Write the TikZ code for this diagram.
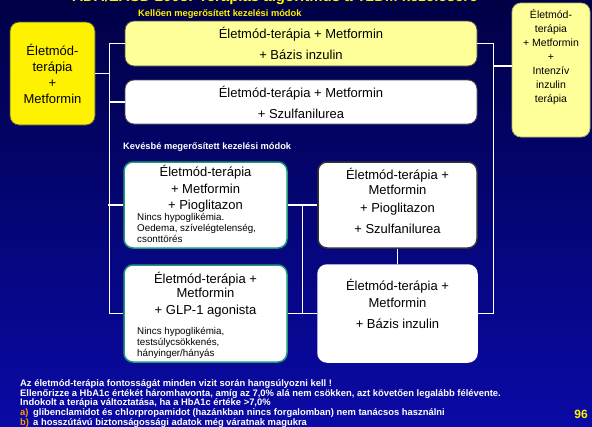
\documentclass[tikz,border=0pt]{standalone}
\usepackage{fontspec}
\setmainfont{Liberation Sans}
\usetikzlibrary{positioning}
\definecolor{navytop}{HTML}{000046}
\definecolor{navybot}{HTML}{0A0AA6}
\definecolor{lightyel}{HTML}{FFFF99}
\definecolor{boxgreen}{HTML}{1E9A78}
\definecolor{hintorange}{HTML}{FF9900}
\tikzset{
  box/.style={draw=black!70,line width=0.8pt,rounded corners=9pt,inner sep=2pt,align=center,
    font=\fontsize{13}{16}\selectfont},
  yelbox/.style={box,fill=lightyel},
  whitebox/.style={box,fill=white,draw=black!80,line width=1.5pt},
  greenbox/.style={box,fill=white,draw=boxgreen,line width=1.5pt},
  boxtxt/.style={align=center,inner sep=0pt,font=\fontsize{13}{16}\selectfont},
  note/.style={align=left,inner sep=0pt,font=\fontsize{9.8}{10.8}\selectfont},
  head/.style={inner sep=0pt,font=\bfseries\fontsize{9.3}{11}\selectfont},
  link/.style={draw=white,line width=1.5pt}
}
\begin{document}
\begin{tikzpicture}[x=1pt,y=-1pt]
\useasboundingbox (0,0) rectangle (592,426);
\shade[top color=navytop,bottom color=navybot] (0,0) rectangle (592,426);

% headings
\node[anchor=base,text=yellow,font=\bfseries\fontsize{15}{18}\selectfont] (title) at (275,1.5) {ADA/EASD 2008: Terápiás algoritmus a T2DM kezelésére};
\node[head,text=yellow,anchor=base west] (hstrong) at (138,16.5) {Kellően megerősített kezelési módok};
\node[head,text=white,anchor=base west] (hweak) at (123,149.5) {Kevésbé megerősített kezelési módok};

% boxes
\node[box,fill=yellow,minimum width=85pt,minimum height=103pt] (start) at (52.5,73.5) {Életmód-\\terápia\\+\\Metformin};
\node[yelbox,minimum width=352pt,minimum height=45pt] (bazis) at (301,43.5) {Életmód-terápia + Metformin\\[5pt]+ Bázis inzulin};
\node[box,fill=white,minimum width=352pt,minimum height=44pt] (szulf) at (301,102) {Életmód-terápia + Metformin\\[5pt]+ Szulfanilurea};
\node[yelbox,draw=lightyel!70!black,minimum width=78pt,minimum height=134pt] (intenziv) at (551,70) {};
\node[boxtxt,font=\fontsize{10.5}{14}\selectfont] (intenziv txt) at (551,57.5) {Életmód-\\terápia\\+ Metformin\\+\\Intenzív\\inzulin\\terápia};

\node[greenbox,minimum width=163pt,minimum height=86pt] (pio) at (205.5,205) {};
\node[boxtxt] (pio txt) at (205.5,189) {Életmód-terápia\\[1pt]+ Metformin\\+ Pioglitazon};
\node[note,anchor=north west] (pio note) at (137,213.5) {Nincs hypoglikémia.\\Oedema, szívelégtelenség,\\csonttörés};

\node[greenbox,minimum width=163pt,minimum height=97pt] (glp) at (205.5,313.5) {};
\node[boxtxt] (glp txt) at (205.5,295) {Életmód-terápia +\\[-2pt]Metformin\\[1pt]+ GLP-1 agonista};
\node[note,anchor=north west] (glp note) at (137,327) {Nincs hypoglikémia,\\testsúlycsökkenés,\\hányinger/hányás};

\node[whitebox,minimum width=159pt,minimum height=86pt] (pioszu) at (397.5,205) {};
\node[boxtxt] (pioszu txt) at (397.5,201) {Életmód-terápia +\\[-1pt]Metformin\\[2pt]+ Pioglitazon\\[5pt]+ Szulfanilurea};

\node[whitebox,draw=white,minimum width=159pt,minimum height=97pt] (bi) at (397.5,313.5) {};
\node[boxtxt] (bi txt) at (397.5,304) {Életmód-terápia +\\[1pt]Metformin\\[5pt]+ Bázis inzulin};

% connectors
\draw[link] (start.east) -- ++(15,0);
\draw[link] (bazis.west) -- ++(-15,0) |- (glp.west);
\draw[link] (szulf.west) -- ++(-15,0);
\draw[link] (pio.west) -- ++(-15,0);
\draw[link] (pio.east) -- coordinate[midway] (jm1) (pioszu.west);
\draw[link] (glp.east) -- coordinate[midway] (jm2) (bi.west);
\draw[link] (jm1) -- (jm2);
\draw[link] (pioszu.south) -- (bi.north);
\draw[link] (bazis.east) -- ++(16,0) |- (bi.east);
\coordinate (jr) at (493,66);
\draw[link] (jr) -- (jr -| intenziv.west);

% footnotes
\node[anchor=north west,align=left,inner sep=0pt,text=white,font=\bfseries\fontsize{9.4}{9.6}\selectfont] (hints) at (20,379.5)
 {Az életmód-terápia fontosságát minden vizit során hangsúlyozni kell !\\
  Ellenőrizze a HbA1c értékét háromhavonta, amíg az 7,0\% alá nem csökken, azt követően legalább félévente.\\
  Indokolt a terápia változtatása, ha a HbA1c értéke >7,0\%\\
  \makebox[13pt][l]{\textcolor{hintorange}{a)}}glibenclamidot és chlorpropamidot (hazánkban nincs forgalomban) nem tanácsos használni\\
  \makebox[13pt][l]{\textcolor{hintorange}{b)}}a hosszútávú biztonságossági adatok még váratnak magukra};
\node[anchor=base,text=yellow,font=\bfseries\fontsize{12}{14}\selectfont] (pgnum) at (581,418) {96};
\end{tikzpicture}
\end{document}
